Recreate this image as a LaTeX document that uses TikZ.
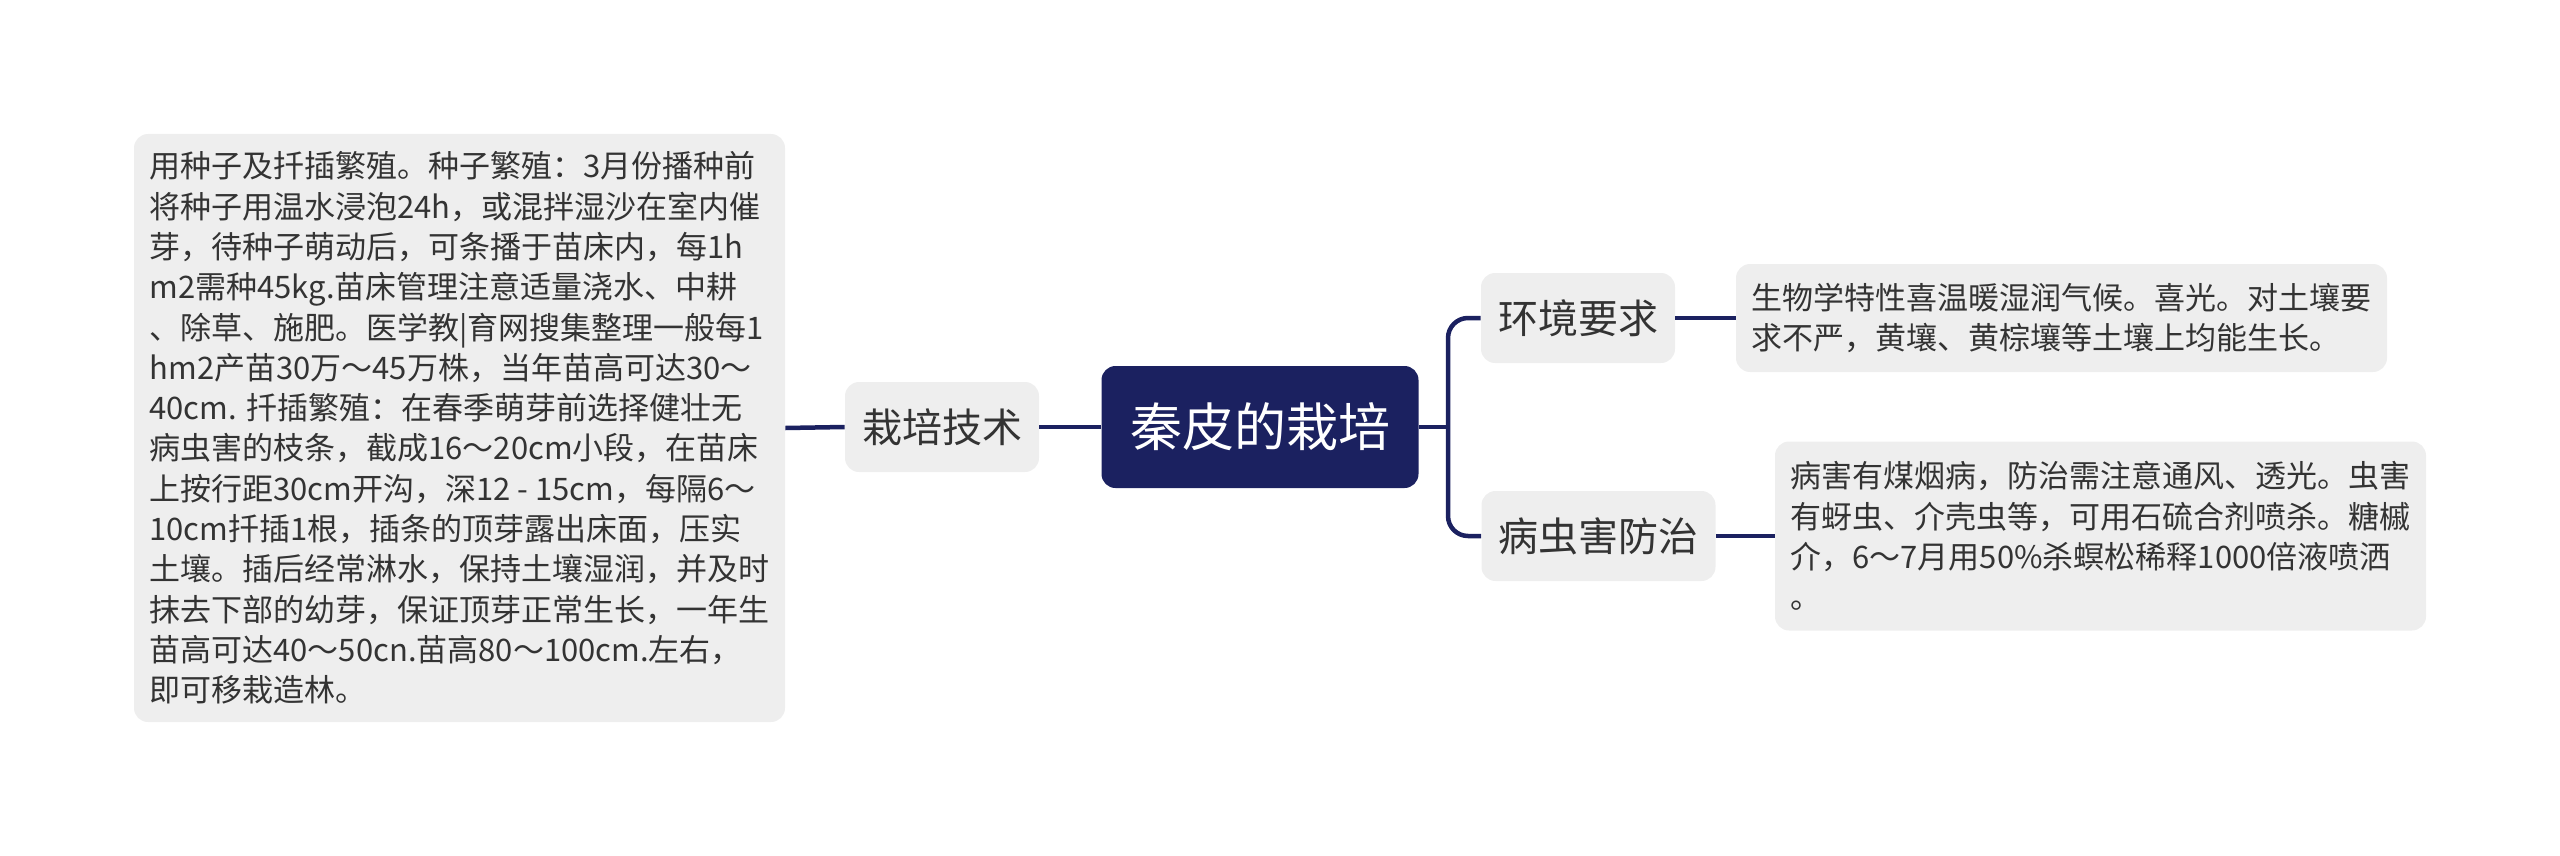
\documentclass[tikz,border=0pt]{standalone}
\usepackage{fontspec}
\setmainfont{Noto Sans CJK SC}
\usetikzlibrary{positioning}
\definecolor{QpNavy}{HTML}{1B2160}
\definecolor{QpGray}{HTML}{EEEEEE}
\definecolor{QpText}{HTML}{333333}

\begin{document}
\begin{tikzpicture}[x=0.5pt,y=-0.5pt,
  rootcard/.style={fill=QpNavy,rounded corners=7pt,text=white,font=\fontsize{26pt}{30pt}\selectfont,minimum width=158.5pt,minimum height=61pt,inner sep=0pt},
  topiccard/.style={fill=QpGray,rounded corners=7pt,text=QpText,font=\fontsize{20pt}{24pt}\selectfont,minimum height=45pt,inner xsep=8.5pt,inner ysep=0pt},
  notecard/.style={fill=QpGray,rounded corners=7pt,text=QpText,font=\fontsize{15.5pt}{20.15pt}\selectfont,minimum width=325.5pt,align=left,inner xsep=7.5pt,inner ysep=8pt},
  branch/.style={draw=QpNavy,line width=2.25pt}
]
\useasboundingbox (0,0) rectangle (2560,856);
\node[rootcard] (root) at (1260,427) {秦皮的栽培};
\node[topiccard] (tech) at (942,427) {栽培技术};
\node[notecard,minimum height=294pt] (techtext) at (459.5,428) {用种子及扦插繁殖。种子繁殖：3月份播种前\\将种子用温水浸泡24h，或混拌湿沙在室内催\\芽，待种子萌动后，可条播于苗床内，每1h\\m2需种45kg.苗床管理注意适量浇水、中耕\\、除草、施肥。医学教|育网搜集整理一般每1\\hm2产苗30万～45万株，当年苗高可达30～\\40cm. 扦插繁殖：在春季萌芽前选择健壮无\\病虫害的枝条，截成16～20cm小段，在苗床\\上按行距30cm开沟，深12 - 15cm，每隔6～\\10cm扦插1根，插条的顶芽露出床面，压实\\土壤。插后经常淋水，保持土壤湿润，并及时\\抹去下部的幼芽，保证顶芽正常生长，一年生\\苗高可达40～50cn.苗高80～100cm.左右，\\即可移栽造林。};
\node[topiccard] (env) at (1578,318) {环境要求};
\node[notecard,minimum height=54pt] (envtext) at (2061.5,318) {生物学特性喜温暖湿润气候。喜光。对土壤要\\求不严，黄壤、黄棕壤等土壤上均能生长。};
\node[topiccard] (pest) at (1598.5,536) {病虫害防治};
\node[notecard,minimum height=94.5pt] (pesttext) at (2100.5,536) {病害有煤烟病，防治需注意通风、透光。虫害\\有蚜虫、介壳虫等，可用石硫合剂喷杀。糖槭\\介，6～7月用50\%杀螟松稀释1000倍液喷洒\\。};
\coordinate (fork) at (1448,427);
\draw[branch] (root.west) -- (tech.east);
\draw[branch] (tech.west) -- (techtext.east);
\draw[branch] (root.east) -- (fork);
\draw[branch,rounded corners=10pt] (env.west) -| (fork) |- (pest.west);
\draw[branch] (env.east) -- (envtext.west);
\draw[branch] (pest.east) -- (pesttext.west);
\end{tikzpicture}
\end{document}
